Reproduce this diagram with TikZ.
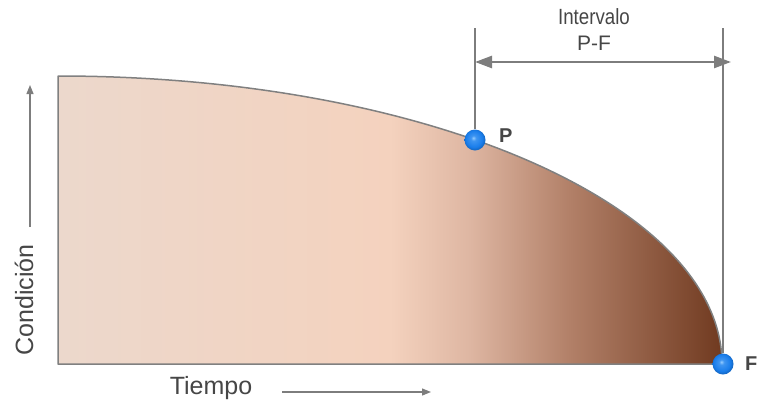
\documentclass[tikz,border=0pt]{standalone}
\usepackage{fontspec}
\setmainfont{Liberation Sans}
\usetikzlibrary{arrows.meta}
\definecolor{c0}{RGB}{236,216,204}
\definecolor{c1}{RGB}{244,210,190}
\definecolor{c2}{RGB}{222,182,162}
\definecolor{c3}{RGB}{178,128,104}
\definecolor{c4}{RGB}{112,58,32}
\definecolor{linegray}{RGB}{125,125,125}
\definecolor{txt}{RGB}{70,70,70}
\definecolor{ballin}{RGB}{150,205,255}
\definecolor{ballout}{RGB}{25,125,235}
\pgfdeclarehorizontalshading{condshade}{100bp}{%
  color(0bp)=(c0); color(25bp)=(c0); color(50bp)=(c1); color(56bp)=(c2);
  color(63.5bp)=(c3); color(75bp)=(c4); color(100bp)=(c4)}
\pgfdeclareradialshading{ballshade}{\pgfpoint{-4bp}{5bp}}{%
  color(0bp)=(ballin); color(6bp)=(ballout!70!ballin); color(20bp)=(ballout); color(25bp)=(ballout!85!black); color(50bp)=(ballout!85!black)}
\tikzset{
  guide/.style={draw=linegray, line width=1.5pt},
  dimarrow/.style={draw=linegray, line width=2.5pt, {Triangle[length=17pt,width=12pt]}-{Triangle[length=17pt,width=12pt]}},
  axisarrow/.style={draw=linegray, line width=1.2pt, -{Triangle[length=9pt,width=7pt]}},
  ballnode/.style={circle, minimum size=21pt, inner sep=0pt, shading=ballshade},
  lbl/.style={text=txt, inner sep=0pt},
}
\begin{document}
\begin{tikzpicture}[x=1pt,y=-1pt]
\useasboundingbox (0,0) rectangle (759,410);
% shaded condition curve
\path[shading=condshade] (58,364) -- (58,76) .. controls (424.7,76) and (722,205) .. (722,364) -- cycle;
\draw[draw=gray, line width=1.5pt, line join=round] (58,364) -- (58,76) .. controls (424.7,76) and (722,205) .. (722,364) -- cycle;
% guide coordinates
\coordinate (pt) at (475,28);
\coordinate (ft) at (723,28);
\coordinate (dl) at (475,62);
\coordinate (dr) at (731,62);
% balls
\node[ballnode] (P) at (475,140) {};
\node[ballnode] (F) at (723,364) {};
\draw[guide] (pt) -- (P.north);
\draw[guide] (ft) -- (F.north);
\draw[dimarrow] (dl) -- (dr);
% labels
\node[lbl, font=\fontsize{22}{24}\selectfont] (int) at (594,17) {\scalebox{0.85}[1]{Intervalo}};
\node[lbl, font=\fontsize{21}{22}\selectfont] (pf) at (594,43) {P-F};
\node[lbl, font=\bfseries\fontsize{20}{22}\selectfont, anchor=west] (pl) at (499,136) {P};
\node[lbl, font=\bfseries\fontsize{20}{22}\selectfont, anchor=west] (fl) at (745,364) {F};
\node[lbl, font=\fontsize{25}{26}\selectfont, rotate=90] (cond) at (24,300) {Condición};
\node[lbl, font=\fontsize{25}{26}\selectfont] (tiempo) at (211,388) {Tiempo};
\coordinate (cb) at (30,227);
\coordinate (ct) at (30,85);
\coordinate (tl) at (282,392);
\coordinate (tr) at (431,392);
\draw[axisarrow] (cb) -- (ct);
\draw[axisarrow] (tl) -- (tr);
\end{tikzpicture}
\end{document}
